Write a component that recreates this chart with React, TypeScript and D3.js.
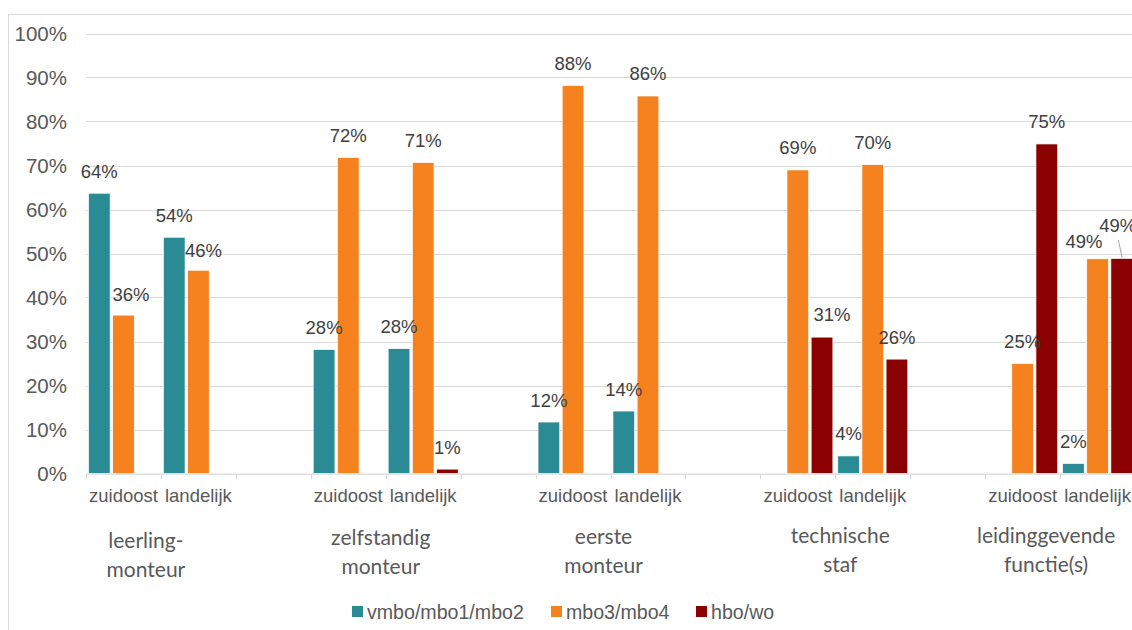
import React from "react";
import * as d3 from "d3";

const groups = [["leerling-", "monteur"], ["zelfstandig", "monteur"], ["eerste", "monteur"], ["technische", "staf"], ["leidinggevende", "functie(s)"]];
const regions = ["zuidoost", "landelijk"];
const seriesNames = ["vmbo/mbo1/mbo2", "mbo3/mbo4", "hbo/wo"];
const seriesColors = ["#2B8B94", "#F5821F", "#8B0000"];

// values per group x region (zuidoost, landelijk), in %
const vmbo = [63.7, 53.7, 28.2, 28.4, 11.7, 14.2, null, 4.0, null, 2.3];
const mbo = [36.0, 46.2, 71.8, 70.7, 88.2, 85.8, 69.0, 70.2, 25.0, 48.8];
const hbo = [null, null, null, 1.0, null, null, 31.0, 26.0, 74.9, 48.9];
const yTicks = [0, 10, 20, 30, 40, 50, 60, 70, 80, 90, 100];

// layout tweaks: manual label nudges [series, index, dx, dy]
const labelNudges: [number, number, number, number][] = [
  [1, 0, 7.5, 1.5],
  [1, 1, 5, 2],
  [2, 6, 10, -1],
  [1, 9, -13.5, 5],
  [2, 9, -4, -11],
];
const groupLabelNudges = [[-15, 3], [-5, 0], [-7, -1], [5, -2], [-14, -2]];

const W = 1132, H = 630;
const x0 = 86, catW = 74.93;
const nCats = 14;

export default function App() {
  const series = [vmbo, mbo, hbo];
  const x = d3.scaleBand<number>().domain(d3.range(nCats)).range([x0, x0 + nCats * catW]).padding(0);
  const inner = d3.scaleBand<number>().domain([0, 1, 2]).range([0, catW]).paddingInner(0.1).paddingOuter(0.1);
  const y = d3.scaleLinear().domain([0, 100]).range([473.5, 33.5]);
  const catIndex = (i: number) => Math.floor(i / 2) * 3 + (i % 2);
  const font = "'Liberation Sans', Arial, sans-serif";

  const bars: any[] = [];
  const labels: any[] = [];
  series.forEach((vals, s) => {
    vals.forEach((v, i) => {
      if (v == null) return;
      const cx = (x(catIndex(i)) as number) + (inner(s) as number);
      const top = y(v);
      bars.push(
        <rect key={`b${s}-${i}`} x={cx} y={top} width={inner.bandwidth()} height={y(0) - top}
          fill={seriesColors[s]} stroke="#fff" strokeWidth={0.75} />
      );
      const n = labelNudges.find((d) => d[0] === s && d[1] === i);
      const dx = n ? n[2] : 0, dy = n ? n[3] : 0;
      const lx = cx + inner.bandwidth() / 2 + dx;
      const ly = top - 15.5 + dy;
      labels.push(
        <text key={`l${s}-${i}`} x={lx} y={ly} textAnchor="middle" fontFamily={font} fontSize={18.5} fill="#404040">
          {Math.round(v)}%
        </text>
      );
      if (n && s === 2 && i === 9) {
        labels.push(
          <line key={`ll${s}-${i}`} x1={lx + 0.7} y1={ly + 8.3} x2={cx + inner.bandwidth() / 2 + 0.4} y2={top - 0.5}
            stroke="#a6a6a6" strokeWidth={1} />
        );
      }
    });
  });

  return (
    <svg width={W} height={H} style={{ position: "absolute", left: 0, top: 0, background: "#fff" }}>
      <rect x={8.5} y={14.5} width={W + 20} height={H + 20} fill="#fff" stroke="#d9d9d9" strokeWidth={1} />
      {yTicks.map((t) => (
        <g key={t}>
          {t > 0 && <line x1={x0} x2={W + 5} y1={Math.round(y(t)) + 0.5} y2={Math.round(y(t)) + 0.5} stroke="#d9d9d9" strokeWidth={1} />}
          <text x={67} y={y(t) + 7} textAnchor="end" fontFamily={font} fontSize={20.5} fill="#595959">{t}%</text>
        </g>
      ))}
      {bars}
      <line x1={x0} x2={W + 5} y1={474} y2={474} stroke="#d9d9d9" strokeWidth={1.25} />
      {d3.range(nCats + 1).map((k) => (
        <line key={`t${k}`} x1={Math.round(x0 + k * catW) + 0.5} x2={Math.round(x0 + k * catW) + 0.5} y1={474} y2={479} stroke="#d9d9d9" strokeWidth={1} />
      ))}
      {regions.flatMap((r, ri) =>
        groups.map((g, gi) => {
          const ci = gi * 3 + ri;
          return (
            <text key={`c${ci}`} x={(x(ci) as number) + catW / 2} y={502} textAnchor="middle" fontFamily={font} fontSize={18.5} fill="#595959">{r}</text>
          );
        })
      )}
      {groups.map((g, gi) => {
        const cx = (x(gi * 3) as number) + catW + groupLabelNudges[gi][0];
        const dy = groupLabelNudges[gi][1];
        return (
          <text key={`g${gi}`} textAnchor="middle" fontFamily="Lato, 'Open Sans', sans-serif" fontSize={21} fill="#595959">
            <tspan x={cx} y={545 + dy}>{g[0]}</tspan>
            <tspan x={cx} y={574 + dy}>{g[1]}</tspan>
          </text>
        );
      })}
      {labels}
      {(() => {
        const starts = [352, 551, 696];
        return seriesNames.map((name, s) => (
          <g key={`lg${s}`}>
            <rect x={starts[s]} y={606} width={11} height={11} fill={seriesColors[s]} />
            <text x={starts[s] + 15} y={619} fontFamily={font} fontSize={19.6} fill="#595959">{name}</text>
          </g>
        ));
      })()}
    </svg>
  );
}
